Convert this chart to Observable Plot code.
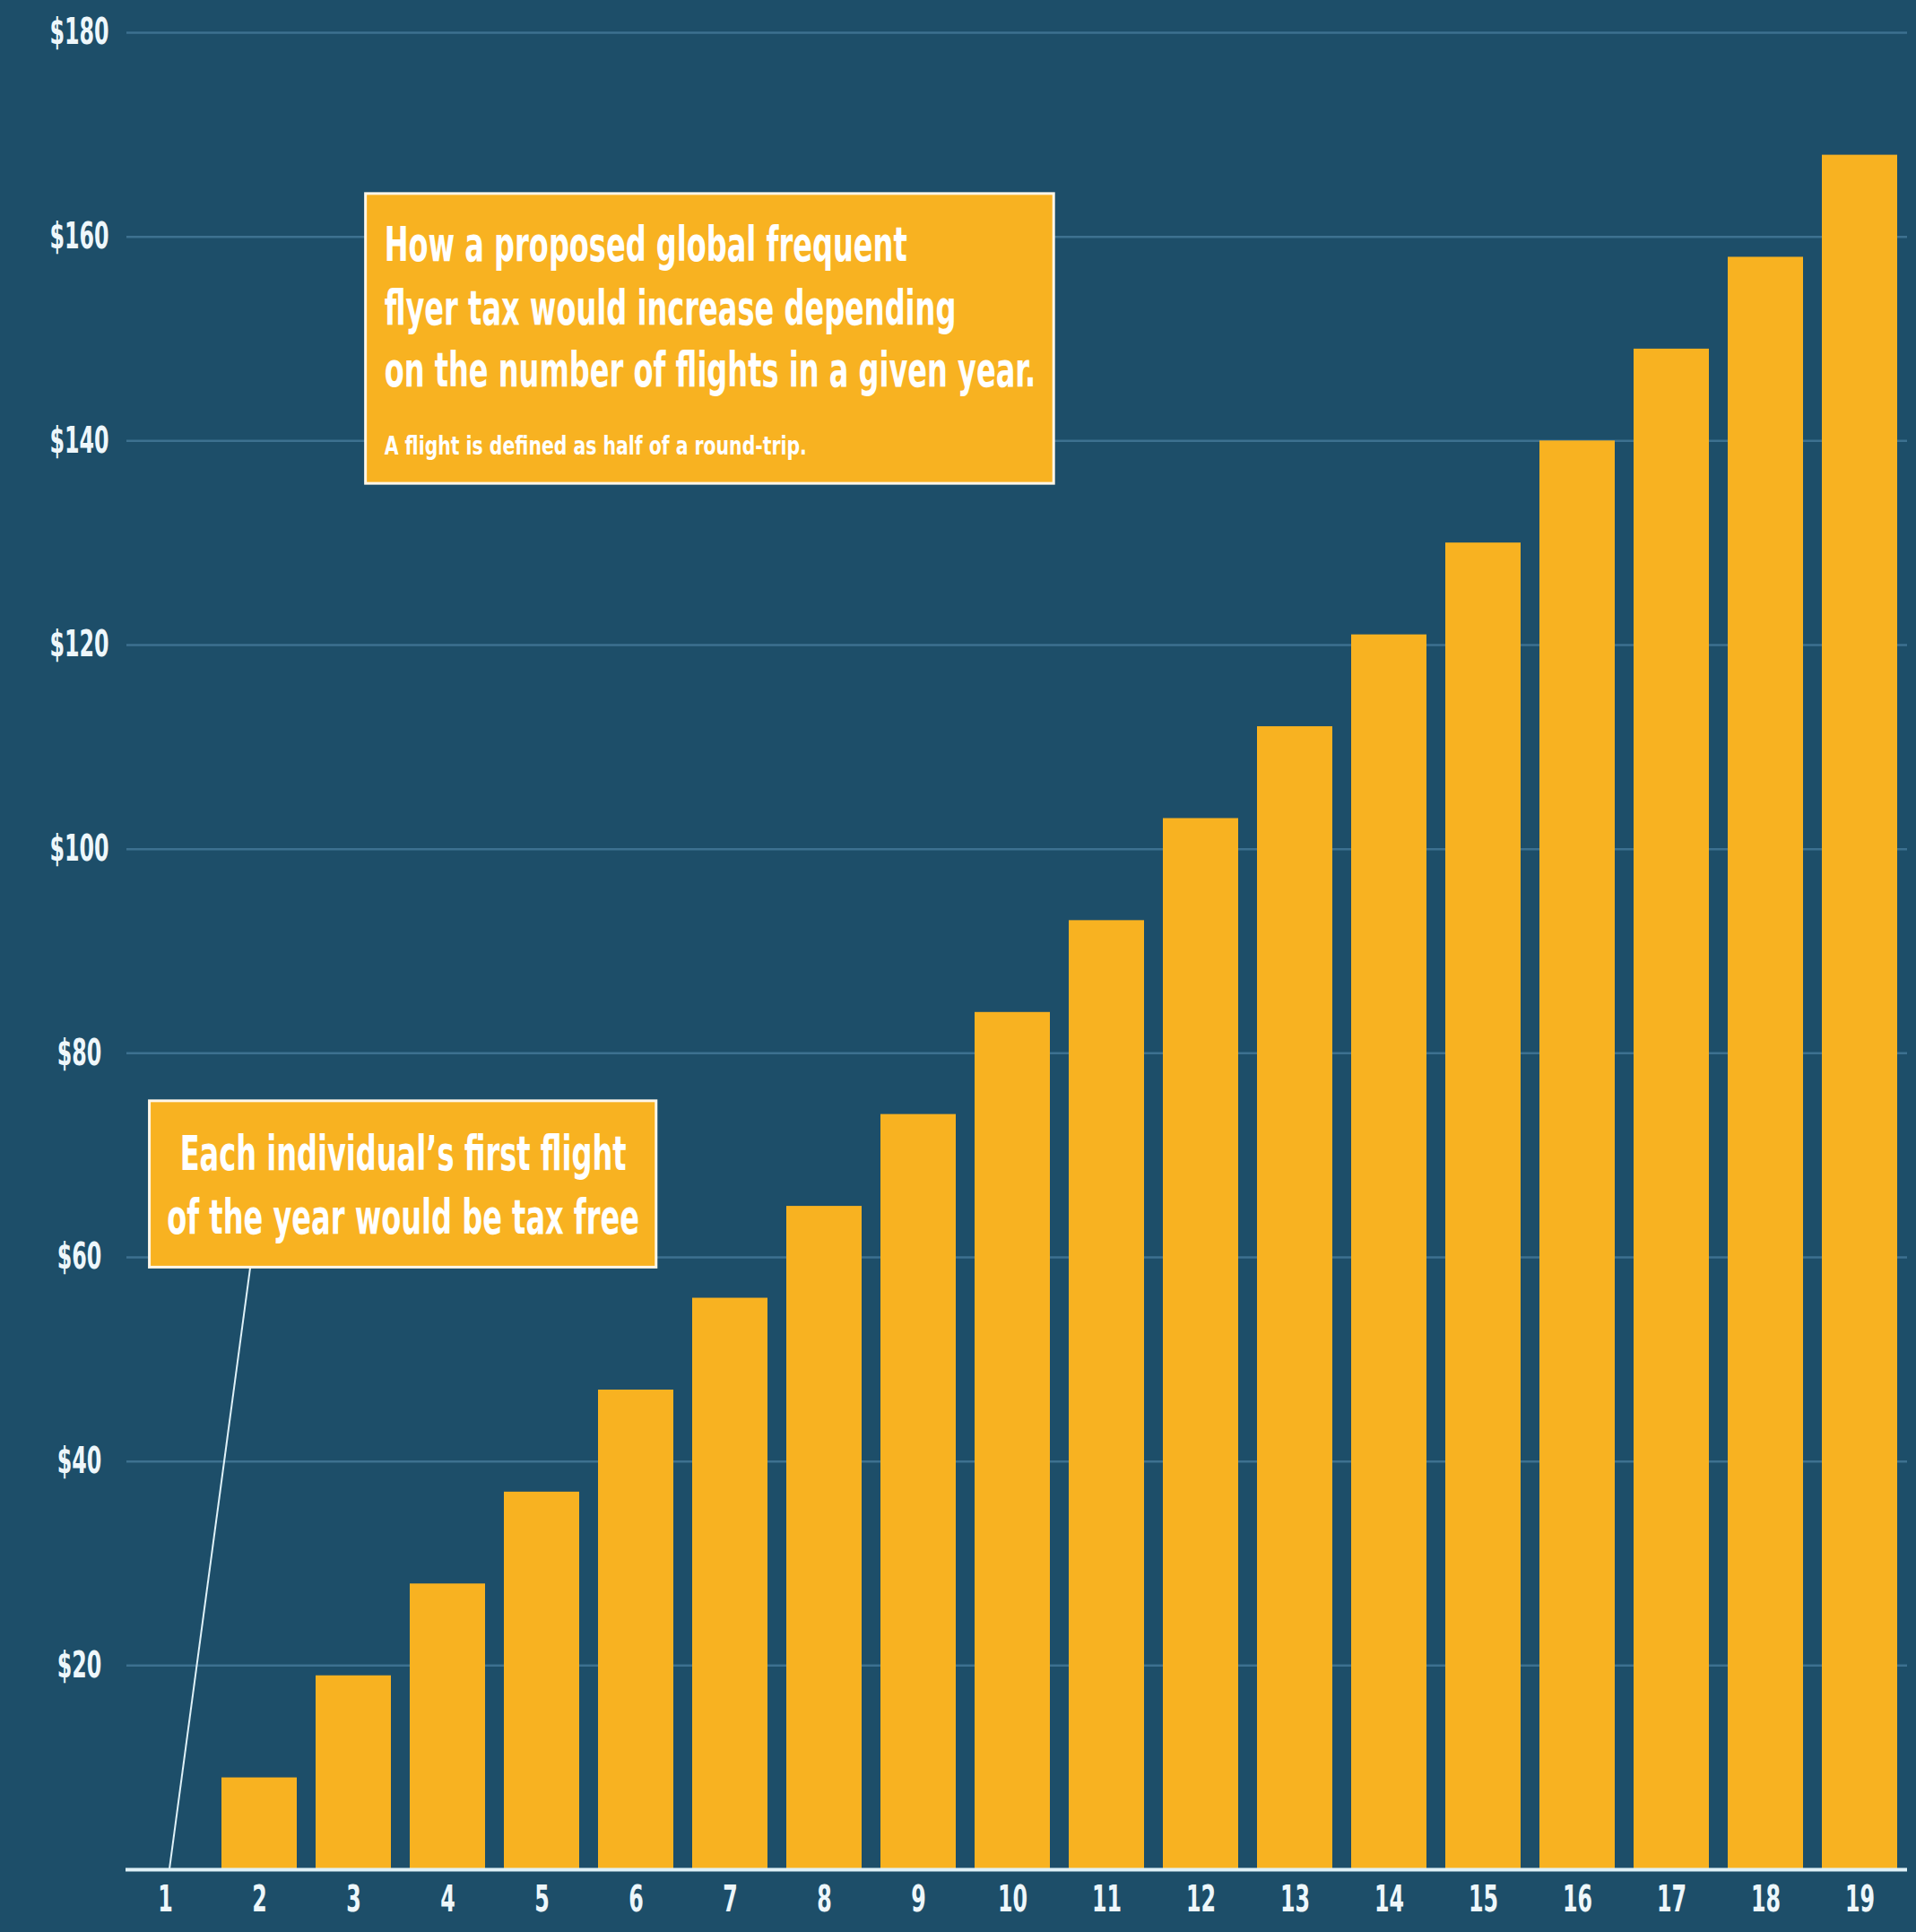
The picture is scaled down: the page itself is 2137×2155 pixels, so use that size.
<!DOCTYPE html>
<html>
<head>
<meta charset="utf-8">
<script src="https://cdn.jsdelivr.net/npm/d3@7"></script>
<script src="https://cdn.jsdelivr.net/npm/@observablehq/plot@0.6"></script>
<style>
  html, body { margin: 0; padding: 0; background: #1d4e69; }
  #chart svg { display: block; }
</style>
</head>
<body>
<div id="chart"></div>
<script>
// ---- Data ----
const flights = [1, 2, 3, 4, 5, 6, 7, 8, 9, 10, 11, 12, 13, 14, 15, 16, 17, 18, 19];
const taxes   = [0, 9, 19, 28, 37, 47, 56, 65, 74, 84, 93, 103, 112, 121, 130, 140, 149, 158, 168];
const yTicks  = [20, 40, 60, 80, 100, 120, 140, 160, 180];

const titleLines = [
  "How a proposed global frequent",
  "flyer tax would increase depending",
  "on the number of flights in a given year."
];
const subtitleText = "A flight is defined as half of a round-trip.";
const noteLines = [
  "Each individual\u2019s first flight",
  "of the year would be tax free"
];

// annotation anchors in data space (x = flight position, y = dollars)
const titleBox = {x1: 3.13, x2: 10.44, y1: 164.2, y2: 135.8};
const titleTextX = 3.33;
const titleBaselines = [157.6, 151.4, 145.3];
const subtitleBaseline = 138.6;
const noteBox = {x1: 0.834, x2: 6.217, y1: 75.3, y2: 59.0};
const noteTextX = 3.53;
const noteBaselines = [68.5, 62.3];
const leader = {x1: 1.906, y1: 59.0, x2: 1.047, y2: 0};

// ---- Styles ----
const BG = "#1d4e69";
const BAR = "#f8b221";
const GRID = "#3d7190";
const AXIS = "#dff1f8";
const LABEL = "#eef7fb";
const FONT = "'Liberation Sans Narrow','Arial Narrow','DejaVu Sans Condensed',sans-serif";

const data = flights.map((f, i) => ({flight: f, tax: taxes[i]}));

const chart = Plot.plot({
  width: 2137,
  height: 2155,
  marginLeft: 128,
  marginRight: 8,
  marginTop: 36,
  marginBottom: 70,
  style: {background: BG, fontFamily: FONT},
  x: {type: "band", domain: flights, paddingInner: 0.2, paddingOuter: 0.1, axis: null},
  y: {domain: [0, 180], axis: null},
  marks: [
    Plot.ruleY(yTicks, {stroke: GRID, strokeWidth: 2.5, insetLeft: 13, insetRight: 2}),
    Plot.barY(data, {x: "flight", y: "tax", fill: BAR}),
    Plot.ruleY([0], {stroke: AXIS, strokeWidth: 4, insetLeft: 12, insetRight: 2}),
    Plot.text(yTicks, {
      y: d => d, text: d => "$" + d, frameAnchor: "left", dx: -40,
      textAnchor: "middle", fill: LABEL, fontSize: 40, fontWeight: "bold"
    }),
    Plot.text(data, {
      x: "flight", text: d => String(d.flight), frameAnchor: "bottom", dy: 46,
      fill: LABEL, fontSize: 40, fontWeight: "bold"
    })
  ]
});

document.getElementById("chart").appendChild(chart);

// condense a text element horizontally around its anchor point
function condense(el, s) {
  const t = el.getAttribute("transform");
  if (t) {
    el.setAttribute("transform", t + ` scale(${s},1)`);
  } else {
    const x = +(el.getAttribute("x") || 0), y = +(el.getAttribute("y") || 0);
    el.removeAttribute("x"); el.removeAttribute("y");
    el.setAttribute("transform", `translate(${x},${y}) scale(${s},1)`);
  }
}
chart.querySelectorAll('g[aria-label="text"] text').forEach(el => condense(el, 0.66));

// ---- Annotations positioned through the chart's own scales ----
const sx = chart.scale("x"), sy = chart.scale("y");
const fx = f => sx.apply(1) + sx.bandwidth / 2 + (f - 1) * sx.step;
const fy = v => sy.apply(v);
const svg = d3.select(chart);
const g = svg.append("g").attr("font-family", FONT).attr("font-weight", "bold");

function box(b) {
  g.append("rect")
    .attr("x", fx(b.x1)).attr("y", fy(b.y1))
    .attr("width", fx(b.x2) - fx(b.x1)).attr("height", fy(b.y2) - fy(b.y1))
    .attr("fill", BAR).attr("stroke", "#fff7e8").attr("stroke-width", 3);
}
function label(text, fxv, fyv, size, s, anchor) {
  g.append("text")
    .attr("transform", `translate(${fx(fxv)},${fy(fyv)}) scale(${s},1)`)
    .attr("text-anchor", anchor)
    .attr("fill", "#ffffff").attr("font-size", size).text(text);
}

// leader line (drawn first so the box sits on top)
g.append("line")
  .attr("x1", fx(leader.x1)).attr("y1", fy(leader.y1))
  .attr("x2", fx(leader.x2)).attr("y2", fy(leader.y2))
  .attr("stroke", AXIS).attr("stroke-width", 2);

box(titleBox);
titleLines.forEach((t, i) => label(t, titleTextX, titleBaselines[i], 54, 0.66, "start"));
label(subtitleText, titleTextX, subtitleBaseline, 28, 0.81, "start");

box(noteBox);
noteLines.forEach((t, i) => label(t, noteTextX, noteBaselines[i], 54, 0.66, "middle"));
</script>
</body>
</html>
